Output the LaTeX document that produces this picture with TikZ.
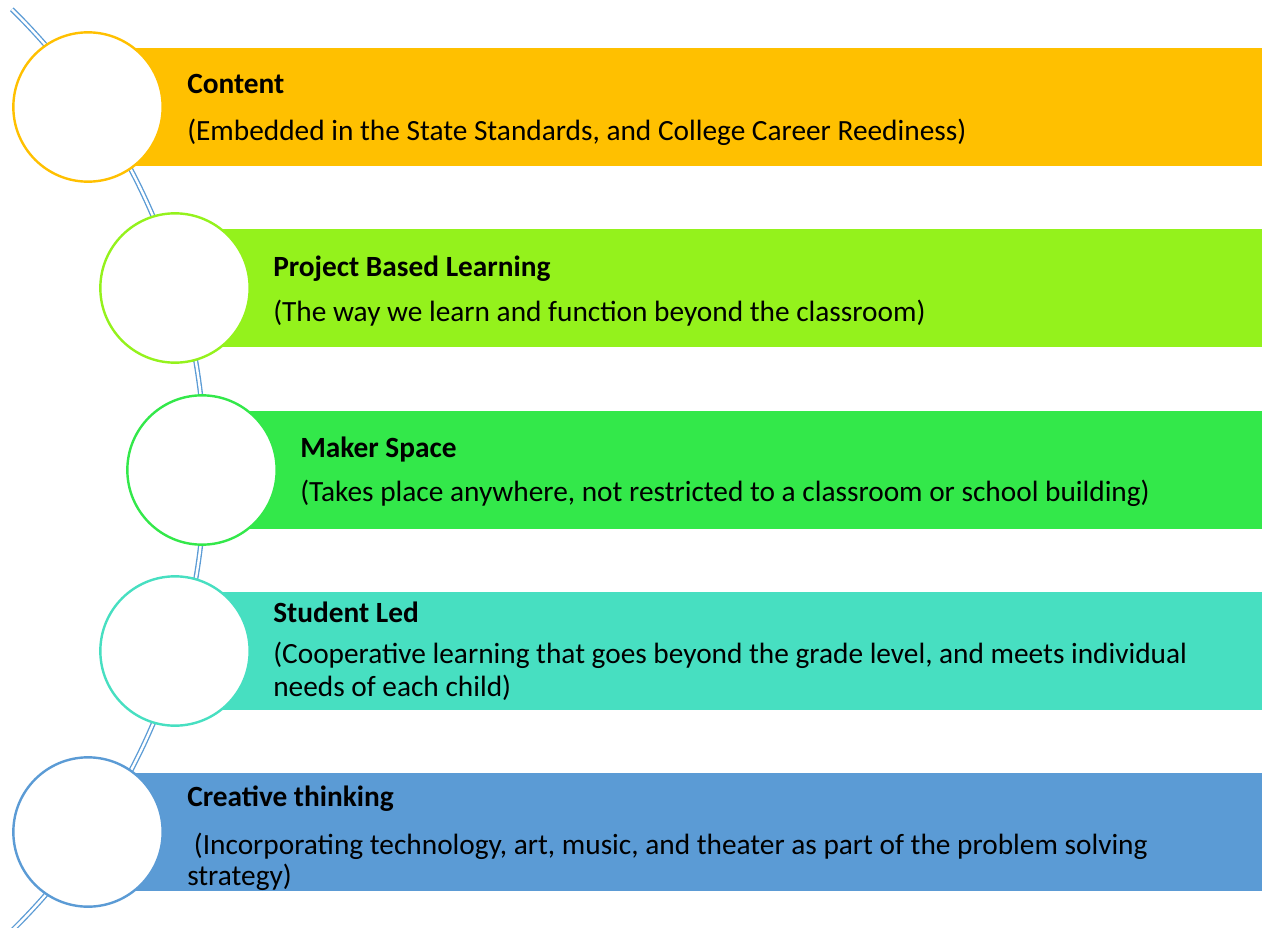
\documentclass[tikz,border=0pt]{standalone}
\usepackage{fontspec}
\setmainfont{Carlito}
\usepackage{tikz}
\definecolor{gold}{HTML}{FFC000}
\definecolor{lime}{HTML}{94F21C}
\definecolor{grass}{HTML}{33E84A}
\definecolor{aqua}{HTML}{47DFC1}
\definecolor{steel}{HTML}{5B9BD5}
\tikzset{
  bead/.style={circle, draw=#1, fill=white, line width=1.8pt, minimum size=112pt, inner sep=0pt},
  title/.style={anchor=base west, inner sep=0pt, font=\fontsize{22}{26}\selectfont\bfseries},
  desc/.style={anchor=base west, inner sep=0pt, align=left, font=\fontsize{22}{24.75}\selectfont},
  rail/.style={draw=steel, line width=1pt, double=white, double distance=1.8pt}
}

\begin{document}
\begin{tikzpicture}[x=0.75pt, y=0.75pt]
\useasboundingbox (0,0) rectangle (1262,-927);
%curved rail behind the circles
\coordinate (railtop) at (11.8,-9.3);
\draw[rail] (railtop) arc[start angle=45.5, end angle=-47, radius=646];
%bars and circles
\foreach \n/\cx/\cy/\col in {1/88/107/gold, 2/175/288/lime, 3/202/470/grass, 4/175/651/aqua, 5/88/832/steel} {
  \fill[\col] (\cx,-\cy+59) rectangle (1262,-\cy-59);
  \node[bead=\col] (c\n) at (\cx,-\cy) {};
}
%texts (multi-line ones sit on their last baseline)
\node[title] (t1) at (187,-94) {Content};
\node[desc] (d1) at (187,-141) {(Embedded in the State Standards, and College Career Reediness)};
\node[title] (t2) at (273,-276) {Project Based Learning};
\node[desc] (d2) at (273,-321) {(The way we learn and function beyond the classroom)};
\node[title] (t3) at (300,-457) {Maker Space};
\node[desc] (d3) at (300,-501) {(Takes place anywhere, not restricted to a classroom or school building)};
\node[title] (t4) at (273,-622) {Student Led};
\node[desc] (d4) at (273,-696) {(Cooperative learning that goes beyond the grade level, and meets individual\\needs of each child)};
\node[title] (t5) at (187,-806) {Creative thinking};
\node[desc, font=\fontsize{22}{23}\selectfont] (d5) at (187,-885) {\ (Incorporating technology, art, music, and theater as part of the problem solving\\strategy)};
\end{tikzpicture}
\end{document}
